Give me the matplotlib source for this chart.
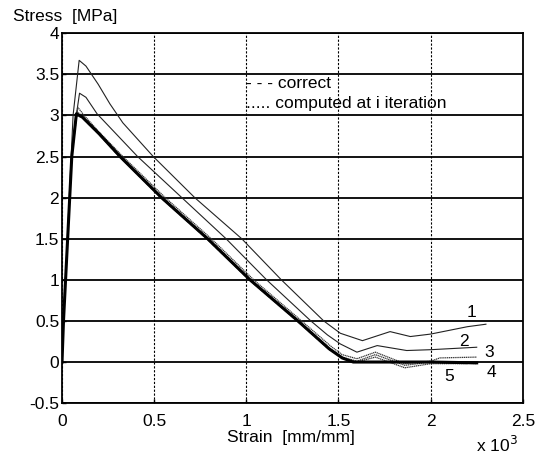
import numpy as np
import matplotlib.pyplot as plt

plt.rcParams['font.family'] = ['Liberation Sans', 'DejaVu Sans']

# strain in 1e-3 mm/mm, stress in MPa
x_correct = [0, 0.008, 0.053, 0.078, 0.11, 0.2, 0.315, 0.54, 0.79, 1.02, 1.28, 1.45, 1.52, 1.58, 1.7, 1.9, 2.0, 2.25]
y_correct = [0, 0.5, 2.5, 3.02, 2.98, 2.78, 2.5, 2.0, 1.5, 1.0, 0.5, 0.16, 0.05, 0.0, 0.0, 0.0, 0.0, -0.01]

x_c1 = [0, 0.008, 0.06, 0.093, 0.13, 0.196, 0.26, 0.33, 0.495, 0.72, 0.975, 1.19, 1.42, 1.51, 1.63, 1.78, 1.89, 2.0, 2.2, 2.3]
y_c1 = [0, 0.5, 3.0, 3.67, 3.6, 3.38, 3.14, 2.91, 2.5, 2.0, 1.5, 1.0, 0.5, 0.35, 0.26, 0.37, 0.31, 0.34, 0.43, 0.46]

x_c2 = [0, 0.008, 0.058, 0.095, 0.13, 0.19, 0.41, 0.65, 0.89, 1.11, 1.35, 1.44, 1.51, 1.6, 1.71, 1.87, 2.0, 2.25]
y_c2 = [0, 0.5, 2.7, 3.27, 3.22, 3.02, 2.5, 2.0, 1.5, 1.0, 0.5, 0.33, 0.22, 0.12, 0.20, 0.14, 0.15, 0.18]

x_c3 = [0, 0.008, 0.055, 0.085, 0.12, 0.2, 0.33, 0.56, 0.81, 1.04, 1.3, 1.46, 1.52, 1.6, 1.7, 1.86, 2.0, 2.05, 2.25]
y_c3 = [0, 0.5, 2.6, 3.10, 3.0, 2.8, 2.5, 2.0, 1.5, 1.0, 0.5, 0.19, 0.09, 0.04, 0.12, -0.02, 0.01, 0.05, 0.06]

x_c4 = [0, 0.008, 0.053, 0.08, 0.11, 0.2, 0.32, 0.545, 0.795, 1.025, 1.285, 1.45, 1.52, 1.6, 1.7, 1.86, 2.0, 2.25]
y_c4 = [0, 0.5, 2.5, 3.05, 2.99, 2.79, 2.5, 2.0, 1.5, 1.0, 0.5, 0.17, 0.06, 0.01, 0.09, -0.04, 0.0, -0.02]

x_c5 = [0, 0.008, 0.053, 0.08, 0.11, 0.2, 0.31, 0.535, 0.785, 1.015, 1.275, 1.45, 1.52, 1.6, 1.7, 1.86, 2.0, 2.2]
y_c5 = [0, 0.5, 2.5, 3.0, 2.97, 2.77, 2.5, 2.0, 1.5, 1.0, 0.5, 0.15, 0.05, 0.0, 0.06, -0.07, -0.02, -0.02]

labels = ['1', '2', '3', '4', '5']
label_x = [2.22, 2.18, 2.32, 2.33, 2.10]
label_y = [0.60, 0.25, 0.11, -0.13, -0.18]

fig = plt.figure(figsize=(5.44, 4.55), dpi=100)
ax = fig.add_axes([0.114, 0.114, 0.847, 0.813])

# computed curves
ax.plot(x_c1, y_c1, color='#222222', lw=0.8)
ax.plot(x_c2, y_c2, color='#222222', lw=0.8)
ax.plot(x_c3, y_c3, color='#333333', lw=0.9, ls=(0, (1, 0.5)))
ax.plot(x_c4, y_c4, color='#333333', lw=0.9, ls=(0, (1, 0.5)))
ax.plot(x_c5, y_c5, color='#333333', lw=0.9, ls=(0, (1, 0.5)))
# correct curve
ax.plot(x_correct, y_correct, color='black', lw=2.2)

for lab, lx, ly in zip(labels, label_x, label_y):
    ax.text(lx, ly, lab, fontsize=12.5, ha='center', va='center')

ax.set_xlim(0, 2.5)
ax.set_ylim(-0.5, 4)
ax.set_xticks(np.arange(0, 2.51, 0.5))
ax.set_yticks(np.arange(-0.5, 4.01, 0.5))
ax.set_xticklabels(['0', '0.5', '1', '1.5', '2', '2.5'])
ax.set_yticklabels(['-0.5', '0', '0.5', '1', '1.5', '2', '2.5', '3', '3.5', '4'])
ax.tick_params(labelsize=12.5, direction='in', length=3, width=1)
ax.tick_params(axis='x', pad=8)
ax.tick_params(axis='y', pad=2)

ax.yaxis.grid(True, color='black', lw=1.3, ls='-')
ax.xaxis.grid(True, color='black', lw=0.8, ls=(0, (2, 1.5)))
ax.set_axisbelow(True)
for s in ax.spines.values():
    s.set_linewidth(1.3)

ax.text(0.40, 0.865, '- - - correct', transform=ax.transAxes, fontsize=12.5,
        ha='left', va='center')
ax.text(0.40, 0.81, '..... computed at i iteration', transform=ax.transAxes,
        fontsize=12.5, ha='left', va='center')

fig.text(0.024, 0.963, 'Stress  [MPa]', fontsize=12.5, ha='left', va='center')
fig.text(0.535, 0.038, 'Strain  [mm/mm]', fontsize=12.5, ha='center', va='center')
fig.text(0.875, 0.022, r'x 10$^{3}$', fontsize=12.5, ha='left', va='center')

fig.savefig('out.png', dpi=100)
